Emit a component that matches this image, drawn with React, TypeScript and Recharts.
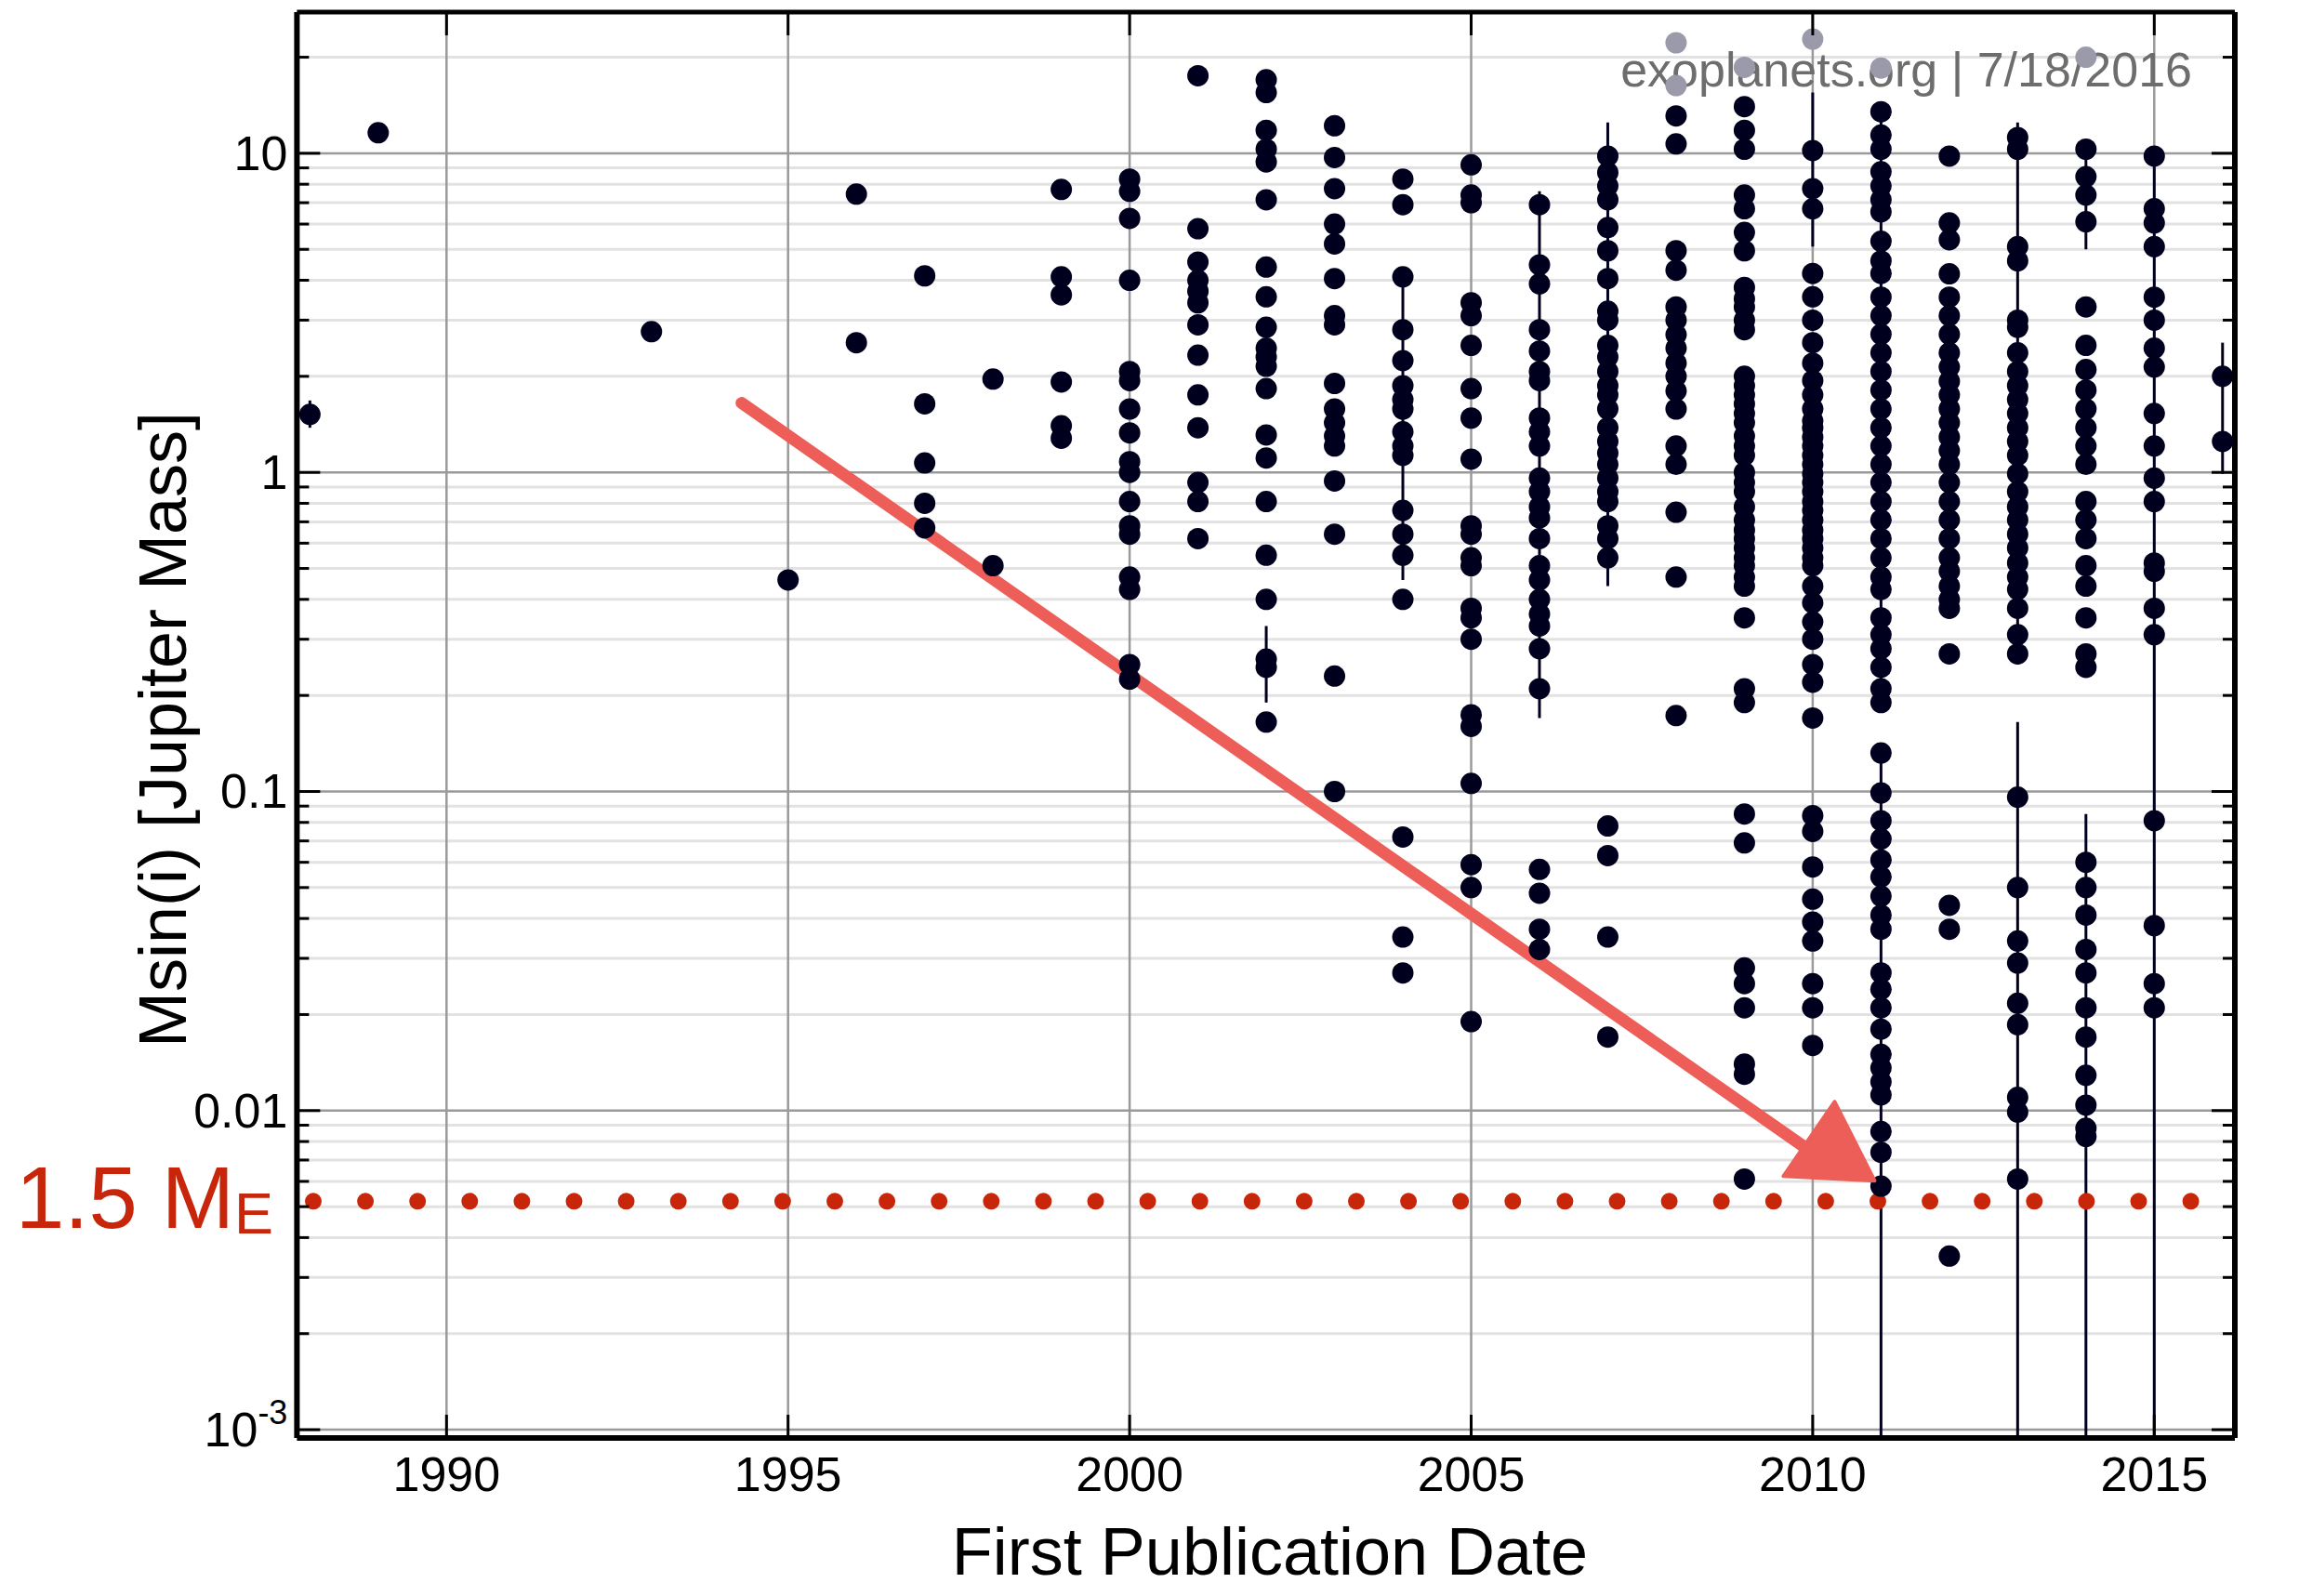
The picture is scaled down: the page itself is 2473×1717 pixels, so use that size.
import React from 'react';
import {
  ScatterChart,
  Scatter,
  XAxis,
  YAxis,
  CartesianGrid,
  ReferenceLine,
  ReferenceDot,
  ErrorBar,
  Customized,
} from 'recharts';

// masses (Msin(i), Jupiter masses) by first publication year
const m1988 = [1.52];
const m1989 = [11.6];
const m1993 = [2.76];
const m1995 = [0.46];
const m1996 = [7.45, 2.55];
const m1997 = [4.13, 1.64, 1.07, 0.8, 0.67];
const m1998 = [1.96, 0.51];
const m1999 = [7.7, 4.1, 3.6, 1.92, 1.4, 1.28];
const m2000 = [8.3, 7.6, 6.25, 4.0, 2.07, 1.94, 1.58, 1.33, 1.08, 1.0, 0.81, 0.68, 0.64, 0.47, 0.43, 0.25, 0.225];
const m2001 = [17.5, 5.8, 4.56, 4.0, 3.7, 3.4, 2.9, 2.33, 1.75, 1.38, 0.93, 0.81, 0.62];
const m2002 = [17.0, 15.5, 11.8, 10.3, 9.4, 7.15, 4.4, 3.55, 2.85, 2.45, 2.3, 2.15, 1.83, 1.31, 1.11, 0.81, 0.55, 0.4, 0.26, 0.245, 0.165];
const m2003 = [12.2, 9.7, 7.75, 6.0, 5.2, 4.05, 3.1, 2.9, 1.9, 1.58, 1.43, 1.3, 1.21, 0.94, 0.64, 0.23, 0.1];
const m2004 = [8.3, 6.9, 4.1, 2.8, 2.24, 1.87, 1.69, 1.58, 1.34, 1.21, 1.13, 0.76, 0.64, 0.55, 0.4, 0.072, 0.035, 0.027];
const m2005 = [9.2, 7.4, 7.0, 3.4, 3.1, 2.5, 1.83, 1.48, 1.1, 0.68, 0.64, 0.54, 0.51, 0.375, 0.35, 0.3, 0.174, 0.16, 0.106, 0.059, 0.05, 0.019];
const m2006 = [6.9, 4.47, 3.9, 2.8, 2.4, 2.07, 1.94, 1.48, 1.34, 1.21, 0.96, 0.87, 0.78, 0.72, 0.62, 0.51, 0.46, 0.4, 0.36, 0.33, 0.28, 0.21, 0.057, 0.048, 0.037, 0.032];
const m2007 = [9.8, 8.7, 7.9, 7.15, 5.85, 4.95, 4.05, 3.2, 3.0, 2.5, 2.3, 2.07, 1.87, 1.75, 1.58, 1.38, 1.25, 1.15, 1.06, 0.96, 0.87, 0.81, 0.68, 0.62, 0.54, 0.078, 0.063, 0.035, 0.017];
const m2008 = [13.1, 10.7, 4.95, 4.3, 3.3, 3.0, 2.7, 2.45, 2.2, 2.0, 1.8, 1.58, 1.21, 1.06, 0.75, 0.47, 0.173];
const m2009 = [14.0, 11.8, 10.3, 7.4, 6.7, 5.65, 4.95, 3.8, 3.5, 3.3, 3.0, 2.8, 2.0, 1.87, 1.75, 1.64, 1.53, 1.43, 1.3, 1.21, 1.13, 1.0, 0.93, 0.87, 0.78, 0.71, 0.66, 0.62, 0.58, 0.54, 0.51, 0.47, 0.44, 0.35, 0.21, 0.19, 0.085, 0.069, 0.028, 0.025, 0.021, 0.014, 0.013, 0.0061];
const m2010 = [10.2, 7.75, 6.7, 4.2, 3.55, 3.0, 2.55, 2.2, 1.94, 1.75, 1.58, 1.45, 1.38, 1.29, 1.21, 1.13, 1.06, 0.99, 0.93, 0.87, 0.81, 0.76, 0.71, 0.66, 0.62, 0.58, 0.54, 0.51, 0.44, 0.39, 0.34, 0.3, 0.25, 0.22, 0.17, 0.084, 0.075, 0.058, 0.046, 0.039, 0.034, 0.025, 0.021, 0.016];
const m2011 = [13.5, 11.4, 10.3, 8.75, 7.9, 7.15, 6.55, 5.3, 4.6, 4.2, 3.54, 3.1, 2.71, 2.37, 2.07, 1.81, 1.58, 1.38, 1.21, 1.06, 0.93, 0.81, 0.71, 0.62, 0.54, 0.47, 0.43, 0.35, 0.31, 0.28, 0.245, 0.21, 0.19, 0.132, 0.099, 0.081, 0.071, 0.061, 0.054, 0.047, 0.041, 0.037, 0.027, 0.024, 0.021, 0.018, 0.015, 0.0136, 0.0123, 0.0112, 0.0086, 0.0074, 0.0058];
const m2012 = [9.8, 6.05, 5.36, 4.19, 3.54, 3.1, 2.71, 2.37, 2.14, 1.93, 1.75, 1.58, 1.43, 1.29, 1.17, 1.06, 0.93, 0.81, 0.71, 0.62, 0.54, 0.49, 0.44, 0.4, 0.375, 0.27, 0.044, 0.037, 0.0035];
const m2013 = [11.2, 10.3, 5.1, 4.6, 3.0, 2.85, 2.37, 2.07, 1.87, 1.69, 1.53, 1.38, 1.25, 1.13, 0.99, 0.87, 0.78, 0.71, 0.64, 0.58, 0.52, 0.47, 0.43, 0.375, 0.31, 0.27, 0.096, 0.05, 0.034, 0.029, 0.0217, 0.0186, 0.011, 0.0099, 0.0061];
const m2014 = [10.3, 8.45, 7.4, 6.1, 3.3, 2.5, 2.1, 1.81, 1.58, 1.38, 1.21, 1.06, 0.81, 0.71, 0.62, 0.51, 0.44, 0.35, 0.27, 0.245, 0.06, 0.05, 0.041, 0.032, 0.027, 0.021, 0.017, 0.0129, 0.0104, 0.0088, 0.0083];
const m2015 = [9.8, 6.7, 6.05, 5.1, 3.54, 3.0, 2.45, 2.14, 1.53, 1.21, 0.96, 0.81, 0.52, 0.49, 0.375, 0.31, 0.081, 0.038, 0.025, 0.021];
const m2016 = [2.0, 1.25];

const columns: [number, number[]][] = [
  [1988, m1988], [1989, m1989], [1993, m1993], [1995, m1995], [1996, m1996],
  [1997, m1997], [1998, m1998], [1999, m1999], [2000, m2000], [2001, m2001],
  [2002, m2002], [2003, m2003], [2004, m2004], [2005, m2005], [2006, m2006],
  [2007, m2007], [2008, m2008], [2009, m2009], [2010, m2010], [2011, m2011],
  [2012, m2012], [2013, m2013], [2014, m2014], [2015, m2015], [2016, m2016],
];

// grey points near the top
const fadedYears = [2008, 2008, 2009, 2010, 2011, 2014];
const fadedMass = [22.2, 16.3, 18.6, 22.8, 18.5, 20.0];

// error bars: year, mass, lower end, upper end
const errYears = [1988, 2002, 2004, 2006, 2007, 2010, 2011, 2011, 2013, 2013, 2014, 2014, 2015, 2016];
const errMass = [1.52, 0.26, 1.2, 1.0, 1.0, 10.2, 0.0058, 1.0, 0.0061, 1.0, 0.0083, 7.4, 0.021, 2.0];
const errLow = [1.38, 0.19, 0.46, 0.17, 0.44, 5.1, 0.000942, 0.19, 0.000942, 0.25, 0.000942, 5.0, 0.000942, 0.99];
const errHigh = [1.68, 0.33, 4.0, 7.6, 12.5, 15.5, 0.135, 13.5, 0.165, 12.5, 0.085, 10.3, 9.8, 2.55];

const xTicks = [1990, 1995, 2000, 2005, 2010, 2015];
const majorY = [0.001, 0.01, 0.1, 1, 10];
const majorLabels = ['10', '0.01', '0.1', '1', '10'];
const minorY = [
  0.002, 0.003, 0.004, 0.005, 0.006, 0.007, 0.008, 0.009,
  0.02, 0.03, 0.04, 0.05, 0.06, 0.07, 0.08, 0.09,
  0.2, 0.3, 0.4, 0.5, 0.6, 0.7, 0.8, 0.9,
  2, 3, 4, 5, 6, 7, 8, 9, 20,
];

const earthLine = 0.0052; // 1.5 Earth masses
const arrowFrom = { x: 1994.32, y: 1.65 };
const arrowTo = { x: 2009.95, y: 0.0075 };
const arrowTip = { x: 2010.32, y: 0.01066 };

const X_MIN = 1987.81;
const X_MAX = 2016.18;
const Y_MIN = 0.000942;
const Y_MAX = 27.7;

const W = 2457;
const H = 1701;
const PLOT_RIGHT = 2396;
const PLOT_TOP = 5;

const NAVY = '#00001e';
const RED = '#c8260a';
const ARROW = '#ee5e58';
const FONT = '"Liberation Sans", Arial, sans-serif';

const points = columns.flatMap(([year, ms]) => ms.map((m) => ({ year, m })));
const faded = fadedYears.map((year, i) => ({ year, m: fadedMass[i] }));
const errPoints = errYears.map((year, i) => ({
  year,
  m: errMass[i],
  err: [errMass[i] - errLow[i], errHigh[i] - errMass[i]],
}));

const XTick = (props: any) => {
  const { x, y, payload } = props;
  return (
    <g>
      <line x1={x} x2={x} y1={y} y2={y - 25} stroke="#000" strokeWidth={3} />
      <line x1={x} x2={x} y1={PLOT_TOP} y2={PLOT_TOP + 25} stroke="#000" strokeWidth={3} />
      <text x={x} y={y + 57} textAnchor="middle" fontSize={52} fontFamily={FONT} fill="#000">
        {payload.value}
      </text>
    </g>
  );
};

const YTick = (props: any) => {
  const { x, y, payload } = props;
  const idx = majorY.indexOf(payload.value);
  const len = idx >= 0 ? 25 : 13;
  return (
    <g>
      <line x1={x} x2={x + len} y1={y} y2={y} stroke="#000" strokeWidth={3} />
      <line x1={PLOT_RIGHT - len} x2={PLOT_RIGHT} y1={y} y2={y} stroke="#000" strokeWidth={3} />
      {idx >= 0 && (
        <text x={x - 10} y={y + 18} textAnchor="end" fontSize={52} fontFamily={FONT} fill="#000">
          {majorLabels[idx]}
          {idx === 0 && (
            <tspan dy={-24} fontSize={36}>
              -3
            </tspan>
          )}
        </text>
      )}
    </g>
  );
};

const dot = (fill: string) => (p: any) => <ellipse cx={p.cx} cy={p.cy} rx={11.5} ry={11.5} fill={fill} />;

const ArrowHead = (p: any) => (
  <polygon
    points={`${p.cx},${p.cy} ${p.cx - 55},${p.cy + 80} ${p.cx + 43},${p.cy + 85}`}
    fill={ARROW}
    stroke={ARROW}
    strokeWidth={4}
    strokeLinejoin="round"
  />
);

const Annotations = () => (
  <g fontFamily={FONT}>
    <text x={2350} y={85} textAnchor="end" fontSize={52} fill="#6d6d6d">
      exoplanets.org | 7/18/2016
    </text>
    <text x={9} y={1313} fontSize={94} fill={RED}>
      1.5 M
      <tspan fontSize={63} dy={6}>
        E
      </tspan>
    </text>
    <text x={1358} y={1686} textAnchor="middle" fontSize={72} fill="#000">
      First Publication Date
    </text>
    <text x={192} y={777} textAnchor="middle" fontSize={72} fill="#000" transform="rotate(-90 192 777)">
      Msin(i) [Jupiter Mass]
    </text>
  </g>
);

export default function App() {
  return (
    <ScatterChart
      width={W}
      height={H}
      margin={{ top: PLOT_TOP, right: W - PLOT_RIGHT, bottom: 52, left: 111.4 }}
      style={{ background: '#fff' }}
    >
      <CartesianGrid horizontalValues={minorY} vertical={false} stroke="#e2e2e2" strokeWidth={3} />
      <CartesianGrid horizontalValues={majorY} verticalValues={xTicks} stroke="#9a9a9a" strokeWidth={2.5} />
      <XAxis
        type="number"
        dataKey="year"
        domain={[X_MIN, X_MAX]}
        allowDataOverflow
        ticks={xTicks}
        interval={0}
        tick={<XTick />}
        tickLine={false}
        tickSize={0}
        tickMargin={0}
        axisLine={{ stroke: '#000', strokeWidth: 6 }}
        height={110}
      />
      <YAxis
        type="number"
        dataKey="m"
        scale="log"
        domain={[Y_MIN, Y_MAX]}
        allowDataOverflow
        ticks={[...majorY, ...minorY]}
        interval={0}
        tick={<YTick />}
        tickLine={false}
        tickSize={0}
        tickMargin={0}
        axisLine={{ stroke: '#000', strokeWidth: 6 }}
        width={200}
      />
      <Scatter data={errPoints} shape={() => <g />} isAnimationActive={false}>
        <ErrorBar dataKey="err" direction="y" width={0} stroke={NAVY} strokeWidth={3} />
      </Scatter>
      <Scatter data={points} shape={dot(NAVY)} isAnimationActive={false} />
      <Scatter data={faded} shape={dot('#9a9aab')} isAnimationActive={false} />
      <ReferenceLine
        y={earthLine}
        stroke={RED}
        strokeWidth={18}
        strokeLinecap="round"
        strokeDasharray="0 56.1"
        strokeDashoffset={38.5}
      />
      <ReferenceLine segment={[arrowFrom, arrowTo]} stroke={ARROW} strokeWidth={13} strokeLinecap="round" />
      <ReferenceDot x={arrowTip.x} y={arrowTip.y} shape={ArrowHead} />
      <ReferenceLine y={Y_MAX} stroke="#000" strokeWidth={5} />
      <ReferenceLine x={X_MAX} stroke="#000" strokeWidth={6} />
      <Customized component={Annotations} />
    </ScatterChart>
  );
}
